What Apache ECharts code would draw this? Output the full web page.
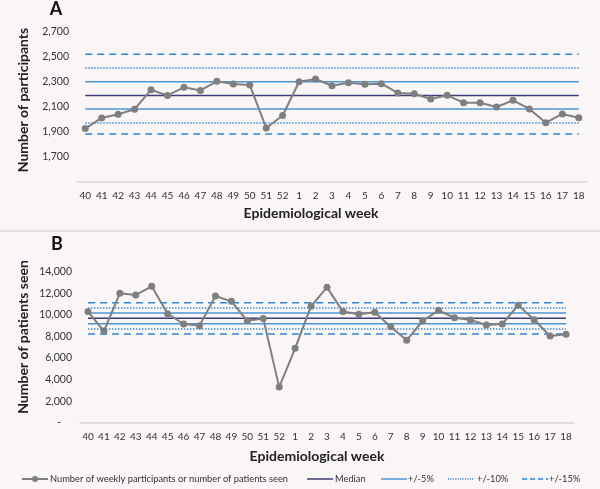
<!DOCTYPE html>
<html><head><meta charset="utf-8">
<script src="https://cdn.jsdelivr.net/npm/echarts@6/dist/echarts.min.js"></script>
<style>html,body{margin:0;padding:0;background:#f9f6f5}#c{width:600px;height:489px}</style>
</head><body><div id="c"></div>
<script>
const weeks = ['40','41','42','43','44','45','46','47','48','49','50','51','52','1','2','3','4','5','6','7','8','9','10','11','12','13','14','15','16','17','18'];
const participants = [1925,2010,2040,2080,2235,2190,2255,2230,2303,2282,2274,1930,2030,2300,2322,2268,2292,2279,2284,2210,2204,2162,2191,2132,2132,2098,2151,2082,1972,2042,2012];
const patientsSeen = [10300,8500,12000,11850,12650,10100,9150,9000,11750,11250,9450,9650,3300,6900,10800,12550,10300,10050,10250,8900,7650,9430,10420,9730,9520,9060,9150,10900,9550,8040,8200];
// reference levels
const refA = {median:2190, lo5:2082, hi5:2300, lo10:1970, hi10:2410, lo15:1882, hi15:2520};
const refB = {median:9680, lo5:9180, hi5:10170, lo10:8690, hi10:10640, lo15:8220, hi15:11120};
const yTicksA = {min:1500, max:2700, interval:200};
const yTicksB = {min:0, max:14000, interval:2000};
const legendLabels = ['Number of weekly participants or number of patients seen','Median','+/-5%','+/-10%','+/-15%'];

const NAME_DATA = legendLabels[0];
const FONT = 'Lato';
const chart = echarts.init(document.getElementById('c'), null, {renderer:'canvas'});

function fmt(v){ return v===0 ? '-    ' : v.toLocaleString('en-US'); }
const refStyles = {
  median:{name:legendLabels[1], color:'#3d3a7d', type:'solid', width:1.5},
  p5:{name:legendLabels[2], color:'#4a97d8', type:'solid', width:1.5},
  p10:{name:legendLabels[3], color:'#3a8fdc', type:[1.5,1.5], width:1.5},
  p15:{name:legendLabels[4], color:'#2a88dc', type:[7,5], width:1.5}
};
const GRAY = '#7f7f7f';
function refSeries(idx, ref){
  const out = [];
  const add = (st, v) => out.push({
    name: st.name, type:'line', xAxisIndex:idx, yAxisIndex:idx,
    data: weeks.map(() => v), showSymbol:false, symbol:'none', silent:true,
    lineStyle:{color:st.color, type:st.type, width:st.width}, itemStyle:{color:st.color}, z:1
  });
  add(refStyles.p15, ref.hi15); add(refStyles.p15, ref.lo15);
  add(refStyles.p10, ref.hi10); add(refStyles.p10, ref.lo10);
  add(refStyles.p5, ref.hi5); add(refStyles.p5, ref.lo5);
  add(refStyles.median, ref.median);
  return out;
}
function dataSeries(idx, d){
  return {name:NAME_DATA, type:'line', xAxisIndex:idx, yAxisIndex:idx, data:d,
    symbol:'circle', symbolSize:7, lineStyle:{color:GRAY, width:2}, itemStyle:{color:GRAY}, z:5};
}
const xAxisBase = {
  type:'category', data:weeks, boundaryGap:true,
  axisTick:{show:false}, axisLine:{lineStyle:{color:'#d9d5d3', width:1.5}},
  axisLabel:{interval:0, fontFamily:FONT, fontSize:10, color:'#333', margin:9}
};
const yAxisBase = {
  type:'value', splitLine:{show:false}, axisLine:{show:false}, axisTick:{show:false},
  axisLabel:{fontFamily:FONT, fontSize:10.5, color:'#333', margin:8, formatter:fmt}
};

// manual legend (icons + real text)
const LY = 479;
const legendItems = [
  {x:22, tx:50, style:null},
  {x:307, tx:335, style:refStyles.median},
  {x:381, tx:408, style:refStyles.p5},
  {x:448, tx:477, style:refStyles.p10},
  {x:522, tx:549, style:refStyles.p15}
];
const legendGraphics = [];
legendItems.forEach((it, i) => {
  const st = it.style;
  legendGraphics.push({type:'line', shape:{x1:it.x, y1:LY, x2:it.x+26, y2:LY},
    style:{stroke: st ? st.color : GRAY, lineWidth: st ? 1.5 : 2, lineDash: st && Array.isArray(st.type) ? (i===4 ? [5,3] : [1.2,1.2]) : null}});
  if (!st) legendGraphics.push({type:'circle', shape:{cx:it.x+13, cy:LY, r:3}, style:{fill:GRAY}});
  legendGraphics.push({type:'text', x:it.tx, y:LY, style:{text:legendLabels[i], font:'9.3px '+FONT, fill:'#333', verticalAlign:'middle'}});
});

const option = {
  backgroundColor:'#f9f6f5',
  animation:false,
  grid:[
    {left:77, right:13, top:31.7, height:150},
    {left:80, right:26, top:271.7, height:151}
  ],
  xAxis:[ Object.assign({gridIndex:0}, xAxisBase), Object.assign({gridIndex:1}, xAxisBase) ],
  yAxis:[
    Object.assign({gridIndex:0}, yAxisBase, yTicksA, {axisLabel:Object.assign({}, yAxisBase.axisLabel, {showMinLabel:false})}),
    Object.assign({gridIndex:1}, yAxisBase, yTicksB)
  ],
  series:[].concat(refSeries(0, refA), [dataSeries(0, participants)], refSeries(1, refB), [dataSeries(1, patientsSeen)]),
  graphic:[
    {type:'line', shape:{x1:0, y1:231, x2:600, y2:231}, style:{stroke:'#dcd8d6', lineWidth:1.5}},
    {type:'text', x:56, y:9, style:{text:'A', font:'bold 18px '+FONT, fill:'#111', align:'center', verticalAlign:'middle'}},
    {type:'text', x:57, y:244, style:{text:'B', font:'bold 18px '+FONT, fill:'#111', align:'center', verticalAlign:'middle'}},
    {type:'text', x:23, y:100, rotation:Math.PI/2, style:{text:'Number of participants', font:'bold 14px '+FONT, fill:'#222', align:'center', verticalAlign:'middle'}},
    {type:'text', x:23, y:337, rotation:Math.PI/2, style:{text:'Number of patients seen', font:'bold 14px '+FONT, fill:'#222', align:'center', verticalAlign:'middle'}},
    {type:'text', x:311, y:213, style:{text:'Epidemiological week', font:'bold 14px '+FONT, fill:'#222', align:'center', verticalAlign:'middle'}},
    {type:'text', x:317, y:456, style:{text:'Epidemiological week', font:'bold 14px '+FONT, fill:'#222', align:'center', verticalAlign:'middle'}}
  ].concat(legendGraphics)
};
chart.setOption(option);
</script></body></html>
